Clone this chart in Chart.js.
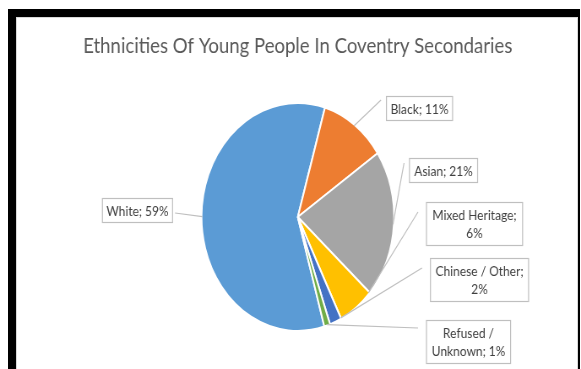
<!DOCTYPE html>
<html>
<head>
<meta charset="utf-8">
<title>Ethnicities Of Young People In Coventry Secondaries</title>
<script src="https://cdn.jsdelivr.net/npm/chart.js@4.4.1/dist/chart.umd.min.js"></script>
<style>
  html, body { margin: 0; padding: 0; background: #fff; overflow: hidden; }
  body { width: 581px; height: 369px; position: relative; }
  /* the chart is laid out 688px wide and squeezed to 581px */
  #stretch { position: absolute; left: 0; top: 0; width: 688px; height: 369px;
             transform: scaleX(0.84448); transform-origin: 0 0; }
  #frame { position: absolute; left: 8px; top: 9px; right: 1px; bottom: -20px;
           border-left: 8px solid #000; border-top: 8px solid #000; border-right: 2px solid #000;
           pointer-events: none; }
  #frame::after { content: ""; position: absolute; left: 0; top: 0; right: 0; bottom: 0;
                  border-left: 1px solid #d9d9d9; border-top: 1px solid #d9d9d9; border-right: 1px solid #d9d9d9; }
</style>
</head>
<body>
<div id="stretch"><canvas id="ethnicityChart"></canvas></div>
<div id="frame"></div>
<script>
const categories = ["White", "Black", "Asian", "Mixed Heritage", "Chinese / Other", "Refused / Unknown"];
const percentages = [59, 11, 21, 6, 2, 1];

const sliceColours = ["#5B9BD5", "#ED7D31", "#A5A5A5", "#FFC000", "#4472C4", "#70AD47"];

// horizontal squeeze applied to #stretch
const K = 581 / 688;

// Callout boxes in page pixels: [left, top, right, bottom], leader end point,
// and where along the slice arc the leader attaches (0 = start, 1 = end)
const callouts = [
  { box: [102, 198, 173, 223], lead: [175, 213], at: 0.5 },
  { box: [386, 96, 453, 121], lead: [381, 100], at: 0.5 },
  { box: [409, 158, 478, 183], lead: [404, 163], at: 0.5 },
  { box: [426, 202, 523, 246], lead: [418, 212], at: 0.03 },
  { box: [430, 258, 529, 302], lead: [422, 268], at: 0.0 },
  { box: [426, 320, 511, 364], lead: [418, 328], at: 0.5 }
];

function wrapText(ctx, text, maxWidth) {
  const words = text.split(" ");
  const lines = [];
  let line = "";
  words.forEach(w => {
    const test = line ? line + " " + w : w;
    if (line && ctx.measureText(test).width > maxWidth) {
      lines.push(line);
      line = w;
    } else {
      line = test;
    }
  });
  if (line) lines.push(line);
  return lines;
}

// Draws the boxed data labels and their leader lines
const calloutPlugin = {
  id: "callouts",
  afterDatasetsDraw(chart) {
    const { ctx } = chart;
    const arcs = chart.getDatasetMeta(0).data;
    ctx.save();
    ctx.font = "14.2px Lato";
    ctx.textAlign = "center";
    ctx.textBaseline = "middle";
    arcs.forEach((arc, i) => {
      const c = callouts[i];
      const { x, y, startAngle, endAngle, outerRadius } =
        arc.getProps(["x", "y", "startAngle", "endAngle", "outerRadius"], true);
      const a = startAngle + (endAngle - startAngle) * c.at;
      const ax = x + Math.cos(a) * (outerRadius - 1);
      const ay = y + Math.sin(a) * (outerRadius - 1);

      ctx.strokeStyle = "#bfbfbf";
      ctx.lineWidth = 1.2;
      ctx.beginPath();
      ctx.moveTo(ax, ay);
      ctx.lineTo(c.lead[0] / K, c.lead[1]);
      ctx.stroke();

      const [l, t, r, b] = c.box;
      const bx = l / K, bw = (r - l) / K, bh = b - t;
      ctx.fillStyle = "#fff";
      ctx.fillRect(bx, t, bw, bh);
      ctx.strokeRect(bx + 0.5, t + 0.5, bw - 1, bh - 1);

      const lines = wrapText(ctx, `${categories[i]}; ${percentages[i]}%`, bw - 10);
      const lh = 18.5;
      const y0 = t + bh / 2 - (lines.length - 1) * lh / 2 + 0.5;
      ctx.fillStyle = "#404040";
      lines.forEach((ln, j) => ctx.fillText(ln, bx + bw / 2, y0 + j * lh));
    });
    ctx.restore();
  }
};

new Chart(document.getElementById("ethnicityChart").getContext("2d"), {
  type: "pie",
  data: {
    labels: categories,
    datasets: [{
      data: percentages,
      backgroundColor: sliceColours,
      borderColor: "#ffffff",
      borderWidth: 2
    }]
  },
  options: {
    responsive: true,
    maintainAspectRatio: false,
    animation: false,
    events: [],
    rotation: 164,
    radius: 114,
    layout: { padding: { top: 0, bottom: 15, left: 40, right: 22.8 } },
    plugins: {
      legend: { display: false },
      tooltip: { enabled: false },
      title: {
        display: true,
        text: "Ethnicities Of Young People In Coventry Secondaries",
        color: "#595959",
        font: { family: "Lato", size: 22, weight: "normal", lineHeight: 1.2 },
        padding: { top: 32.3, bottom: 21.3 }
      }
    }
  },
  plugins: [calloutPlugin]
});
</script>
</body>
</html>
